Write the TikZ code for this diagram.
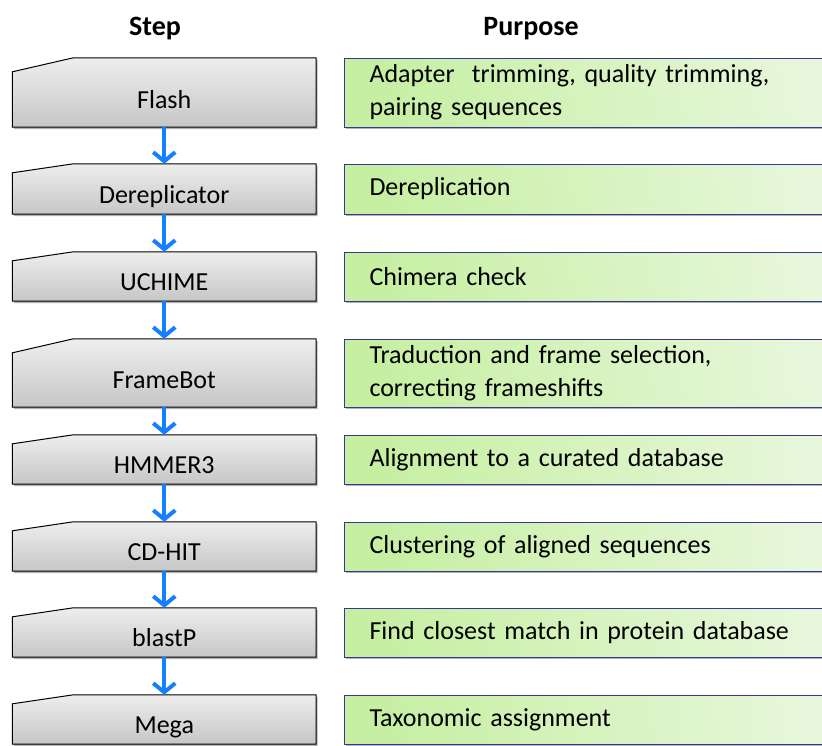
\documentclass[tikz,border=0pt]{standalone}
\usepackage{fontspec}
\setmainfont{Carlito}
\usepackage{tikz}
\usetikzlibrary{positioning,arrows.meta,shapes,shadows,backgrounds}
\usepackage{xcolor}

\definecolor{flowblue}{RGB}{20,128,255}
\definecolor{boxblue}{RGB}{55,55,150}
\definecolor{greenA}{RGB}{198,239,162}
\definecolor{greenB}{RGB}{232,247,220}
\definecolor{greyA}{RGB}{238,238,238}
\definecolor{greyB}{RGB}{198,198,198}

\tikzset{
  stepbox/.style={inner sep=0pt, minimum width=303.5pt, font=\fontsize{26}{30}\selectfont},
  stepshape/.style={draw=black, line width=1pt, top color=greyA, bottom color=greyB,
    drop shadow={shadow xshift=1.5pt, shadow yshift=-2pt, opacity=0.3, fill=black}},
  purpose/.style={anchor=west, draw=boxblue, line width=1pt, inner xsep=25pt, inner ysep=0pt,
    text width=450pt, align=left, shading=axis, left color=greenA, right color=greenB, shading angle=100,
    font=\fontsize{26}{33}\selectfont,
    drop shadow={shadow xshift=1.5pt, shadow yshift=-2pt, opacity=0.3, fill=black}},
  flow/.style={-{Straight Barb[length=9pt,width=22pt]}, line width=4pt, flowblue},
  head/.style={font=\fontsize{28}{32}\selectfont\bfseries}
}

\begin{document}
\begin{tikzpicture}[x=1pt, y=-1pt]
        \clip (0,0) rectangle (822,745);

        % Headings
        \node[head] (hstep) at (155,29) {Step};
        \node[head] (hpurp) at (531,29) {Purpose};

        % Steps
        \node[stepbox, text height=50.5pt, text depth=18.5pt] (flash) at (164.25,92.5) {Flash};
        \node[stepbox, text height=39.5pt, text depth=10.5pt] (derep) at (164.25,189) {Dereplicator};
        \node[stepbox, text height=38.5pt, text depth=10.5pt] (uchime) at (164.25,276.5) {UCHIME};
        \node[stepbox, text height=49.5pt, text depth=18.5pt] (framebot) at (164.25,373) {FrameBot};
        \node[stepbox, text height=38.5pt, text depth=10.5pt] (hmmer) at (164.25,459.5) {HMMER3};
        \node[stepbox, text height=38.5pt, text depth=10.5pt] (cdhit) at (164.25,546.5) {CD-HIT};
        \node[stepbox, text height=38.5pt, text depth=10.5pt] (blastp) at (164.25,632.5) {blastP};
        \node[stepbox, text height=38.5pt, text depth=10.5pt] (mega) at (164.25,719.5) {Mega};

        % Purposes
        \node[purpose, minimum height=69pt] (p1) at (344,92.5) {Adapter\ \ trimming, quality trimming,\\pairing sequences};
        \node[purpose, minimum height=50pt] (p2) at (344,189) {Dereplication};
        \node[purpose, minimum height=49pt] (p3) at (344,276.5) {Chimera check};
        \node[purpose, minimum height=68pt] (p4) at (344,373) {Traduction and frame selection,\\correcting frameshifts};
        \node[purpose, minimum height=49pt] (p5) at (344,459.5) {Alignment to a curated database};
        \node[purpose, minimum height=49pt] (p6) at (344,546.5) {Clustering of aligned sequences};
        \node[purpose, minimum height=49pt] (p7) at (344,632.5) {Find closest match in protein database};
        \node[purpose, minimum height=49pt] (p8) at (344,719.5) {Taxonomic assignment};

        % Step outlines with the cut corner
        \begin{scope}[on background layer]
        \foreach \n/\s in {flash/14, derep/9, uchime/9, framebot/14, hmmer/9, cdhit/9, blastp/9, mega/9}
          \shade[stepshape] (\n.south west) -- ([yshift=-\s pt]\n.north west)
            -- ([xshift=61pt]\n.north west) -- (\n.north east) -- (\n.south east) -- cycle;
        \end{scope}

        % Flow
        \draw[flow] (flash) -- (derep);
        \draw[flow] (derep) -- (uchime);
        \draw[flow] (uchime) -- (framebot);
        \draw[flow] (framebot) -- (hmmer);
        \draw[flow] (hmmer) -- (cdhit);
        \draw[flow] (cdhit) -- (blastp);
        \draw[flow] (blastp) -- (mega);
\end{tikzpicture}
\end{document}
